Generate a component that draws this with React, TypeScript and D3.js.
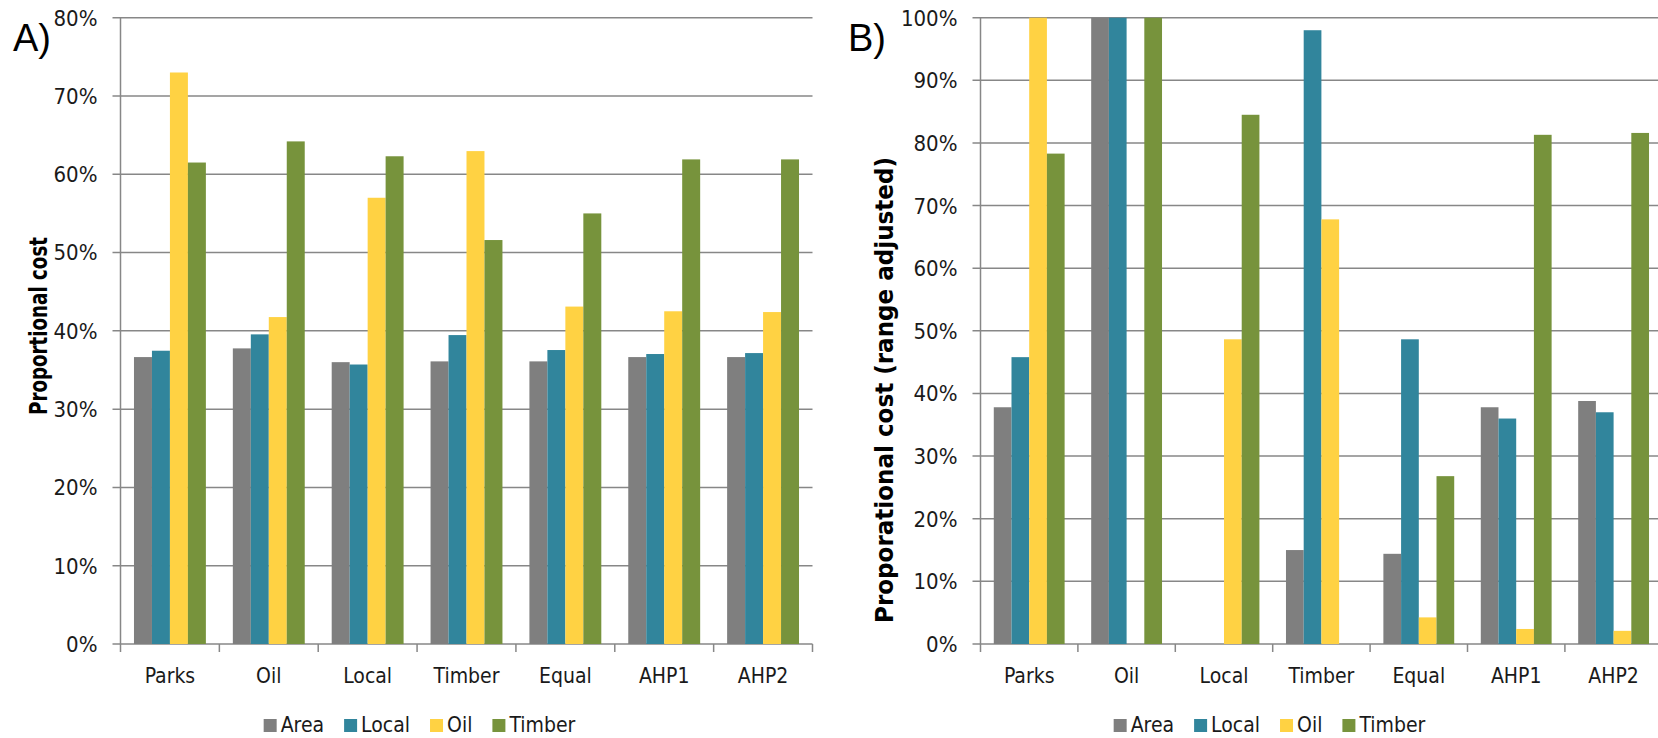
import React, { useEffect, useRef } from 'react';
import * as d3 from 'd3';

const categories = ['Parks', 'Oil', 'Local', 'Timber', 'Equal', 'AHP1', 'AHP2'];
const seriesNames = ['Area', 'Local', 'Oil', 'Timber'];
const seriesColors = ['#7f7f7f', '#31859c', '#ffd243', '#77933c'];

// panel A - proportional cost
const costArea = [0.3665, 0.3776, 0.360, 0.361, 0.361, 0.3665, 0.3665];
const costLocal = [0.3746, 0.3955, 0.357, 0.3946, 0.3755, 0.3704, 0.3716];
const costOil = [0.730, 0.4176, 0.570, 0.6296, 0.431, 0.425, 0.424];
const costTimber = [0.615, 0.642, 0.623, 0.516, 0.550, 0.619, 0.619];

// panel B - range adjusted
const adjArea = [0.378, 1.0, 0, 0.150, 0.144, 0.378, 0.388];
const adjLocal = [0.458, 1.0, 0, 0.980, 0.4865, 0.360, 0.370];
const adjOil = [1.0, 0, 0.4865, 0.678, 0.0425, 0.024, 0.021];
const adjTimber = [0.783, 1.0, 0.845, 0, 0.268, 0.813, 0.816];

const FONT = '"Liberation Sans Narrow", "DejaVu Sans Condensed", "Liberation Sans", sans-serif';
const GRID = '#878787';

const panels = [
  {
    letter: 'A)', letterX: 13, left: 120.5, right: 812.5, max: 0.8,
    title: 'Proportional cost', titleX: 47, titleY: 326, titleLen: 178,
    legendCenter: 419.5,
    values: [costArea, costLocal, costOil, costTimber],
  },
  {
    letter: 'B)', letterX: 848, left: 980.5, right: 1662.3, max: 1.0,
    title: 'Proporational cost (range adjusted)', titleX: 893, titleY: 390, titleLen: 466,
    legendCenter: 1269.5,
    values: [adjArea, adjLocal, adjOil, adjTimber],
  },
];

export default function App() {
  const svgRef = useRef(null);

  useEffect(() => {
    const svg = d3.select(svgRef.current);
    svg.selectAll('*').remove();

    const top = 17.7;
    const bottom = 644;

    panels.forEach(p => {
      const g = svg.append('g');
      const y = d3.scaleLinear().domain([0, p.max]).range([bottom, top]);
      const x0 = d3.scaleBand().domain(categories).range([p.left, p.right]).padding(0);
      const x1 = d3.scaleBand().domain(seriesNames).range([0, x0.bandwidth()])
        .paddingInner(0).paddingOuter(0.75);

      const ticks = d3.range(0, Math.round(p.max * 10) + 1).map(i => i / 10);

      // gridlines + y ticks
      g.selectAll('.grid').data(ticks).join('line')
        .attr('x1', p.left - 8).attr('x2', p.right)
        .attr('y1', d => y(d)).attr('y2', d => y(d))
        .attr('stroke', GRID).attr('stroke-width', 1.5);

      g.selectAll('.ylab').data(ticks).join('text')
        .attr('x', p.left - 23).attr('y', d => y(d))
        .attr('dy', '0.36em')
        .attr('text-anchor', 'end')
        .attr('font-family', FONT).attr('font-size', 22).attr('fill', '#1a1a1a')
        .text(d => d3.format('.0%')(d));

      // bars
      seriesNames.forEach((s, si) => {
        g.append('g').selectAll('rect').data(p.values[si]).join('rect')
          .attr('x', (d, i) => x0(categories[i]) + x1(s))
          .attr('width', x1.bandwidth())
          .attr('y', d => y(d))
          .attr('height', d => bottom - y(d))
          .attr('fill', seriesColors[si]);
      });

      // y axis line
      g.append('line')
        .attr('x1', p.left).attr('x2', p.left).attr('y1', top).attr('y2', bottom)
        .attr('stroke', GRID).attr('stroke-width', 1.5);

      // x category boundary ticks
      const bounds = categories.map(c => x0(c)).concat([p.right]);
      g.selectAll('.xt').data(bounds).join('line')
        .attr('x1', d => d).attr('x2', d => d)
        .attr('y1', bottom).attr('y2', bottom + 8)
        .attr('stroke', GRID).attr('stroke-width', 1.5);

      g.selectAll('.xlab').data(categories).join('text')
        .attr('x', d => x0(d) + x0.bandwidth() / 2).attr('y', bottom + 39)
        .attr('text-anchor', 'middle')
        .attr('font-family', FONT).attr('font-size', 21).attr('fill', '#1a1a1a')
        .text(d => d);

      // axis title
      g.append('text')
        .attr('transform', `translate(${p.titleX},${p.titleY}) rotate(-90)`)
        .attr('text-anchor', 'middle')
        .attr('font-family', FONT).attr('font-size', 24).attr('font-weight', 'bold')
        .attr('fill', '#000')
        .attr('textLength', p.titleLen).attr('lengthAdjust', 'spacingAndGlyphs')
        .text(p.title);

      // panel letter
      g.append('text')
        .attr('x', p.letterX).attr('y', 51)
        .attr('font-family', '"Liberation Sans", sans-serif').attr('font-size', 38)
        .attr('fill', '#000')
        .text(p.letter);

      // legend
      const leg = g.append('g');
      let cx = 0;
      seriesNames.forEach((s, si) => {
        leg.append('rect')
          .attr('x', cx).attr('y', 719).attr('width', 13).attr('height', 13)
          .attr('fill', seriesColors[si]);
        const t = leg.append('text')
          .attr('x', cx + 17).attr('y', 732)
          .attr('font-family', FONT).attr('font-size', 21).attr('fill', '#1a1a1a')
          .text(s);
        const w = t.node().getComputedTextLength();
        cx += 17 + w + (si < seriesNames.length - 1 ? 20 : 0);
      });
      leg.attr('transform', `translate(${p.legendCenter - cx / 2},0)`);
    });
  }, []);

  return (
    <svg ref={svgRef} width={1658} height={738}
      style={{ position: 'absolute', left: 0, top: 0, background: '#fff' }} />
  );
}
